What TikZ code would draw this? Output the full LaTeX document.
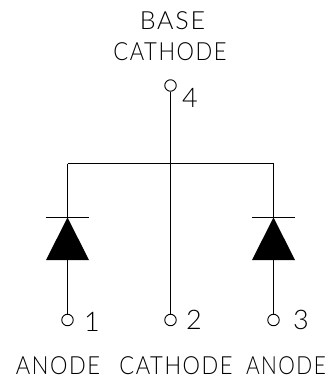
\documentclass[tikz,border=0pt]{standalone}
\usepackage{fontspec}
\setmainfont{Lato Light}[LetterSpace=7]
\usetikzlibrary{positioning}
\tikzset{
	terminal/.style={circle,draw,line width=0.9pt,minimum size=11.5pt,inner sep=0pt},
	pinlabel/.style={font=\fontsize{25}{25}\selectfont,inner sep=0pt,anchor=base,xscale=0.88},
	pinnumber/.style={font=\fontsize{27}{27}\selectfont,inner sep=0pt,anchor=base},
	wire/.style={line width=1pt}
}
\begin{document}
\begin{tikzpicture}[x=1pt,y=-1pt]
	\useasboundingbox (0,0) rectangle (329,377);
	\node [terminal] (t4) at (170.5,85.5) {};
	\node [terminal] (t2) at (170.5,320) {};
	\node [terminal] (t1) at (67.5,320) {};
	\node [terminal] (t3) at (273.5,320) {};
	\coordinate (b4) at (170.5,163.5);
	\coordinate (b1) at (67.5,163.5);
	\coordinate (b3) at (273.5,163.5);
	\draw [wire] (t4) -- (t2);
	\draw [wire] (b1) -- (b3);
	\foreach \n in {1,3} {
		\coordinate (k\n) at (b\n |- 0,217.5);
		\coordinate (a\n) at (b\n |- 0,260);
		\draw [wire] (b\n) -- (k\n);
		\draw [wire] (k\n) ++(-21.5,0) -- ++(43,0);
		\fill (k\n) -- ++(21.5,42.5) -- ++(-43,0) -- cycle;
		\draw [wire] (a\n) -- (t\n);
	}
	\node [pinlabel,xscale=1.14] (base) at (172.5,30) {BASE};
	\node [pinlabel] (cath) at (170,61) {CATHODE};
	\node [pinnumber] (n4) at (190,108) {4};
	\node [pinnumber] (n1) at (92,331) {1};
	\node [pinnumber] (n2) at (194,329) {2};
	\node [pinnumber] (n3) at (301,329) {3};
	\node [pinlabel] (an1) at (58,374) {ANODE};
	\node [pinlabel] (ca2) at (176,374) {CATHODE};
	\node [pinlabel,xscale=0.95] (an3) at (286,374) {ANODE};
\end{tikzpicture}
\end{document}
